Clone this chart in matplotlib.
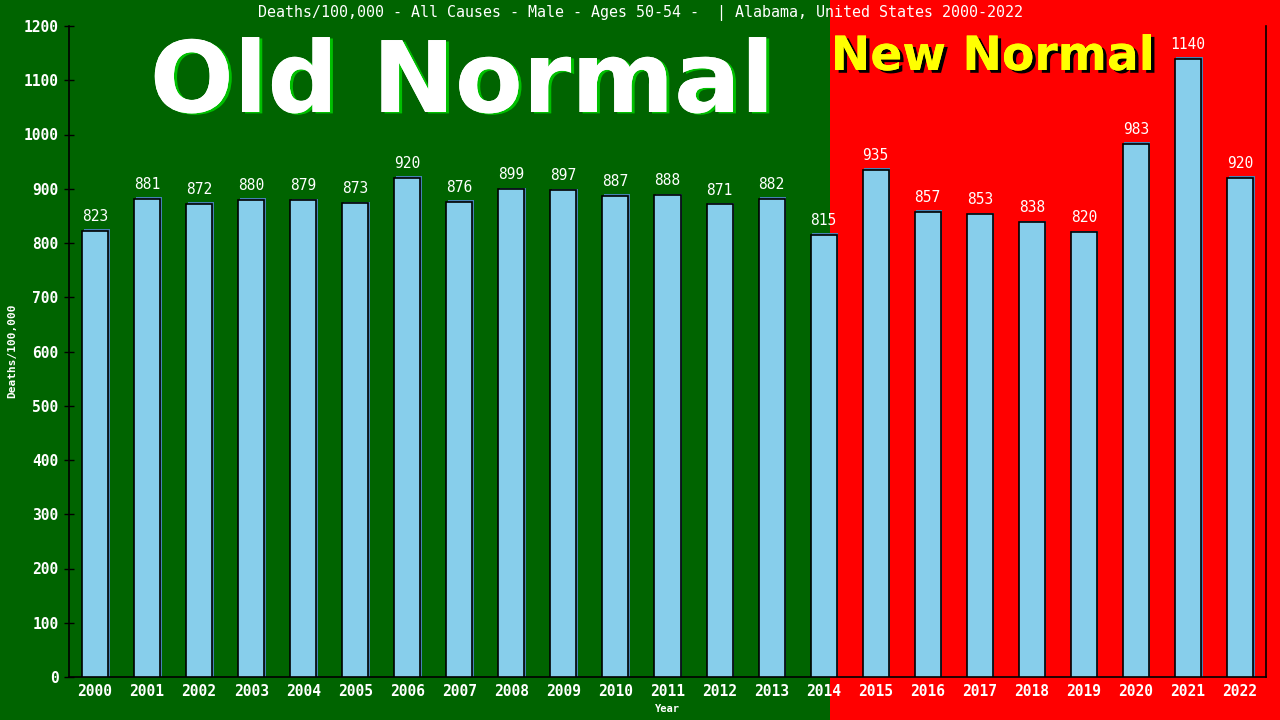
import matplotlib
matplotlib.use("Agg")
import matplotlib.pyplot as plt
import matplotlib.patheffects as pe
from matplotlib.patches import Rectangle

years = [str(y) for y in range(2000, 2023)]
values = [823, 881, 872, 880, 879, 873, 920, 876, 899, 897, 887, 888, 871, 882,
          815, 935, 857, 853, 838, 820, 983, 1140, 920]
yticks = list(range(0, 1201, 100))

title = "Deaths/100,000 - All Causes - Male - Ages 50-54 -  | Alabama, United States 2000-2022"

W, H = 1280, 720
fig = plt.figure(figsize=(12.8, 7.2), dpi=100)
split = 830 / W
fig.patches.append(Rectangle((0, 0), split, 1, transform=fig.transFigure,
                             facecolor="#006400", edgecolor="none", zorder=-10))
fig.patches.append(Rectangle((split, 0), 1 - split, 1, transform=fig.transFigure,
                             facecolor="#FF0000", edgecolor="none", zorder=-10))

left, right, top, bottom = 69, 1266, 26, 677
ax = fig.add_axes([left / W, 1 - bottom / H, (right - left) / W, (bottom - top) / H])
ax.patch.set_alpha(0)

x = list(range(len(years)))
bw = 0.5
# shadow bars
ax.bar([i + 0.03 for i in x], [v + 3 for v in values], width=bw, color="#4682B4",
       edgecolor="none", zorder=2)
ax.bar(x, values, width=bw, color="#87CEEB", edgecolor="black", linewidth=1.2, zorder=3)

mono = "DejaVu Sans Mono"
for i, v in zip(x, values):
    ax.annotate(str(v), (i, v), xytext=(0, 5), textcoords="offset points",
                ha="center", va="bottom", color="white", fontsize=10.5, family=mono, zorder=5)

ax.set_xlim(-0.5, len(years) - 0.5)
ax.set_ylim(0, 1200)
ax.set_yticks(yticks)
ax.set_xticks(x)
ax.set_xticklabels(years)
ax.tick_params(axis="y", colors="black", labelcolor="white", labelsize=10.5,
               length=7, width=1, direction="inout", pad=4)
ax.tick_params(axis="x", colors="black", labelcolor="white", labelsize=10.5, length=0, pad=5)
for lab in ax.get_xticklabels() + ax.get_yticklabels():
    lab.set_family(mono)
    lab.set_fontweight("bold")
ax.spines["top"].set_visible(False)
for s in ["left", "bottom", "right"]:
    ax.spines[s].set_color("black")
    ax.spines[s].set_linewidth(1.2)

fig.text(667 / W, 1 - 709 / H, "Year", ha="center", va="center", color="white",
         fontsize=7.5, family=mono, fontweight="bold")
fig.text(12 / W, 1 - 351 / H, "Deaths/100,000", ha="center", va="center", color="white",
         fontsize=8, family=mono, fontweight="bold", rotation=90)

fig.text(0.5, 1 - 13 / H, title, ha="center", va="center", color="white",
         fontsize=10.8, family=mono)

fig.text(462 / W, 1 - 112 / H, "Old Normal", ha="center", va="baseline", color="white",
         fontsize=71, family="DejaVu Sans", fontweight="bold",
         path_effects=[pe.withSimplePatchShadow(offset=(2.2, -1), shadow_rgbFace="#00C000", alpha=1),
                       pe.Normal()])
fig.text(993 / W, 1 - 70 / H, "New Normal", ha="center", va="baseline", color="#FFFF00",
         fontsize=34, family="DejaVu Sans", fontweight="bold",
         path_effects=[pe.withSimplePatchShadow(offset=(2.5, -2), shadow_rgbFace="black", alpha=1),
                       pe.Normal()])

fig.savefig("out.png", dpi=100)
